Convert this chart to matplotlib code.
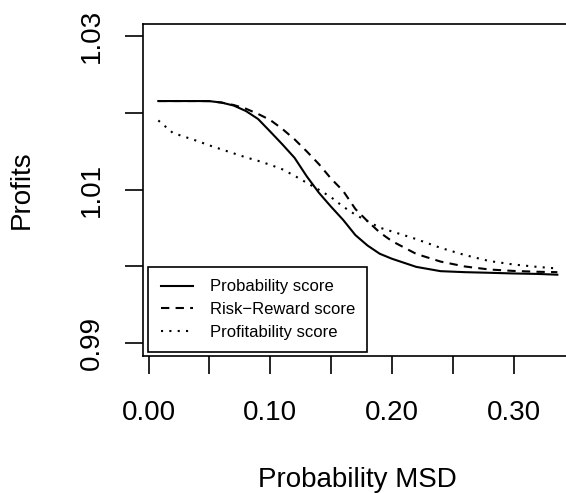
import matplotlib
matplotlib.use("Agg")
import matplotlib.pyplot as plt

plt.rcParams['font.family'] = ['Liberation Sans', 'DejaVu Sans']

msd = [0.008, 0.02, 0.04, 0.05, 0.06, 0.07, 0.08, 0.09, 0.10, 0.11, 0.12, 0.13,
       0.14, 0.15, 0.16, 0.17, 0.18, 0.19, 0.20, 0.22, 0.24, 0.26, 0.28, 0.30,
       0.32, 0.336]

prob_score = [1.02156, 1.02156, 1.02156, 1.02155, 1.02136, 1.02097, 1.02026, 1.01922,
              1.01758, 1.01591, 1.01416, 1.01175, 1.00961, 1.00779, 1.00606, 1.00409,
              1.00273, 1.00166, 1.00101, 0.99995, 0.99939, 0.99926, 0.99918, 0.99909,
              0.99903, 0.99893]

rr_score = [1.02156, 1.02156, 1.02156, 1.02155, 1.02136, 1.02104, 1.02056, 1.01988,
            1.01909, 1.01792, 1.01657, 1.01500, 1.01334, 1.01145, 1.00983, 1.00749,
            1.00590, 1.00444, 1.00331, 1.00164, 1.00064, 1.00000, 0.99961, 0.99942,
            0.99931, 0.99926]

profit_score = [1.01903, 1.01740, 1.01636, 1.01578, 1.01526, 1.01474, 1.01422, 1.01377,
                1.01325, 1.01266, 1.01182, 1.01091, 1.01000, 1.00903, 1.00779, 1.00675,
                1.00591, 1.00506, 1.00457, 1.00357, 1.00243, 1.00149, 1.00071, 1.00026,
                0.99994, 0.99974]

labels = ["Probability score", "Risk\u2212Reward score", "Profitability score"]
xticks = [0.00, 0.05, 0.10, 0.15, 0.20, 0.25, 0.30]
xticklabels = ["0.00", "", "0.10", "", "0.20", "", "0.30"]
yticks = [0.99, 1.00, 1.01, 1.02, 1.03]
yticklabels = ["0.99", "", "1.01", "", "1.03"]

W, H = 566, 493
fig = plt.figure(figsize=(W / 100, H / 100), dpi=100)
left, right, top, bottom = 142.5, 569.5, 24, 355.5
ax = fig.add_axes([left / W, 1 - bottom / H, (right - left) / W, (bottom - top) / H])

lw = 1.5
ax.plot(msd, prob_score, color='black', lw=lw, linestyle='-', label=labels[0])
ax.plot(msd, rr_score, color='black', lw=lw, linestyle=(0, (4, 3)), label=labels[1])
ax.plot(msd, profit_score, color='black', lw=lw, linestyle=(0, (1, 3)), label=labels[2])

ax.set_xlim(-0.005, 0.346)
ax.set_ylim(0.9884, 1.0316)

for s in ax.spines.values():
    s.set_linewidth(1.2)
ax.spines['right'].set_visible(False)

ax.set_xticks(xticks)
ax.set_xticklabels(xticklabels)
ax.set_yticks(yticks)
ax.set_yticklabels(yticklabels, rotation=90, va='center')
ax.tick_params(axis='both', direction='out', length=13, width=1.2, labelsize=20, color='black')
ax.tick_params(axis='x', pad=19)
ax.tick_params(axis='y', pad=14)

fig.text(22 / W, 1 - 190 / H, "Profits", rotation=90, ha='center', va='center', fontsize=20)
fig.text(357 / W, 1 - 480 / H, "Probability MSD", ha='center', va='center', fontsize=20)

leg = ax.legend(loc='lower left', bbox_to_anchor=(148 / W, 1 - 352 / H),
                bbox_transform=fig.transFigure, borderaxespad=0, fontsize=12,
                fancybox=False, framealpha=1, edgecolor='black',
                handlelength=1.95, handletextpad=1.0, borderpad=0.75, labelspacing=0.45)
leg.get_frame().set_linewidth(1.2)

fig.savefig("out.png", dpi=100)
